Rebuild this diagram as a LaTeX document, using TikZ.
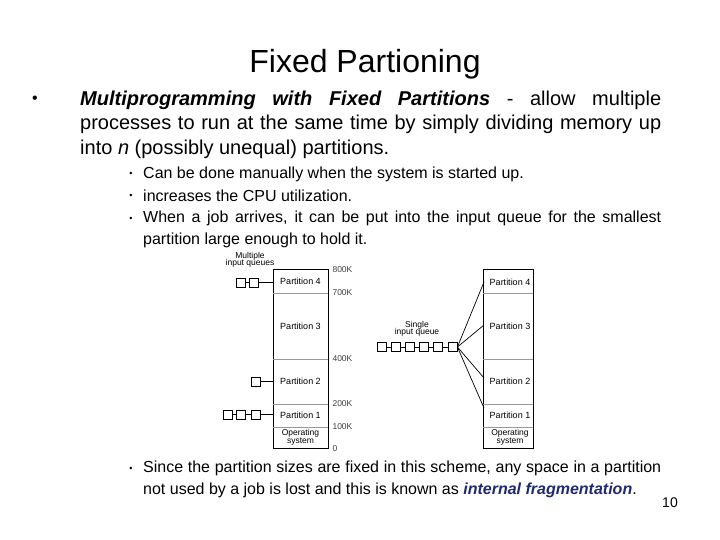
\documentclass[tikz,border=0pt]{standalone}
\usepackage{fontspec}
\setmainfont{Liberation Sans}
\begin{document}
\begin{tikzpicture}[x=1pt,y=-1pt,
  qbox/.style={draw,line width=0.8pt,minimum width=9pt,minimum height=9pt,inner sep=0pt},
  part/.style={font=\fontsize{9}{9}\selectfont,align=center},
  klab/.style={font=\fontsize{8.5}{8}\selectfont,anchor=west,text=black!75},
  mem/.style={draw,line width=0.8pt},
  memg/.style={draw=black!40,line width=0.6pt},
  qline/.style={line width=0.7pt}]
\useasboundingbox (0,0) rectangle (720,540);
\node (title) at (365,64) {\fontsize{32}{36}\selectfont Fixed Partioning};
\node (b1) at (35,100) {\fontsize{16}{16}\selectfont •};
\node[anchor=west,text width=581pt,align=justify,inner sep=0pt,font=\fontsize{20}{24.5}\selectfont] (t1) at (80,124.5)
 {\textbf{\textit{Multiprogramming with Fixed Partitions}} - allow multiple\linebreak processes to run at the same time by simply dividing memory up\linebreak into \textit{n} (possibly unequal) partitions.};
\foreach \y/\n in {174/a,196/b,219/c,469/d} \node (s\n) at (131,\y) {\fontsize{9}{10}\selectfont •};
\tikzset{sub/.style={anchor=west,text width=518pt,align=justify,inner sep=0pt,font=\fontsize{16}{21.5}\selectfont}}
\node[sub] (ta) at (143,174) {Can be done manually when the system is started up.};
\node[sub] (tb) at (143,196) {increases the CPU utilization.};
\node[sub] (tc) at (143,229.5) {When a job arrives, it can be put into the input queue for the smallest\linebreak partition large enough to hold it.};
\node[sub] (td) at (143,479.5) {Since the partition sizes are fixed in this scheme, any space in a partition\linebreak not used by a job is lost and this is known as \textcolor[HTML]{1F2A6E}{\textbf{\textit{internal fragmentation}}}.};
\node (num) at (670,503) {\fontsize{14}{14}\selectfont 10};
% left memory
\draw[mem] (273,269) rectangle (328,448);
\draw[memg] (273,293) -- (328,293) (273,359) -- (328,359) (273,404) -- (328,404) (273,427) -- (328,427);
\node[part] (lp4) at (300.5,281) {Partition 4};
\node[part] (lp3) at (300.5,326) {Partition 3};
\node[part] (lp2) at (300.5,381.5) {Partition 2};
\node[part] (lp1) at (300.5,415.5) {Partition 1};
\node[part,font=\fontsize{8.5}{8.5}\selectfont] (los) at (300.5,437.5) {Operating\\[-1pt]system};
\node[klab] (k8) at (329,270) {800K};
\node[klab] (k7) at (329,293) {700K};
\node[klab] (k4) at (329,359) {400K};
\node[klab] (k2) at (329,404) {200K};
\node[klab] (k1) at (329,427) {100K};
\node[klab] (k0) at (329,449) {0};
\node[font=\fontsize{8.5}{8.5}\selectfont,align=center] (mq) at (250,260) {Multiple\\[-1pt]input queues};
% left queues
\node[qbox] (q41) at (240.5,282.5) {};
\node[qbox] (q42) at (253.5,282.5) {};
\draw[qline] (q41) -- (q42) (q42) -- (273,282.5);
\node[qbox] (q21) at (255.5,381.5) {};
\draw[qline] (q21) -- (273,381.5);
\node[qbox] (q11) at (227.5,414.5) {};
\node[qbox] (q12) at (240.5,414.5) {};
\node[qbox] (q13) at (255.5,414.5) {};
\draw[qline] (q11) -- (q12) (q12) -- (q13) (q13) -- (273,414.5);
% right memory
\draw[mem] (483,269) rectangle (533,448);
\draw[memg] (483,293) -- (533,293) (483,359) -- (533,359) (483,404) -- (533,404) (483,427) -- (533,427);
\node[part] (rp4) at (510,282) {Partition 4};
\node[part] (rp3) at (510,326) {Partition 3};
\node[part] (rp2) at (510,381.5) {Partition 2};
\node[part] (rp1) at (510,415.5) {Partition 1};
\node[part,font=\fontsize{8.5}{8.5}\selectfont] (ros) at (510,437.5) {Operating\\[-1pt]system};
\node[font=\fontsize{8.5}{8.5}\selectfont,align=center] (sq) at (417,329) {Single\\[-1pt]input queue};
\foreach \i in {1,...,6} \node[qbox] (r\i) at ({377+4.5+(\i-1)*14.2},347) {};
\foreach \i/\j in {1/2,2/3,3/4,4/5,5/6} \draw[qline] (r\i) -- (r\j);
\coordinate (e4) at (484,282);
\coordinate (e3) at (484,325);
\coordinate (e2) at (484,378);
\coordinate (e1) at (484,408);
\foreach \e in {e4,e3,e2,e1} \draw[qline] (r6.east) -- (\e);
\end{tikzpicture}
\end{document}
